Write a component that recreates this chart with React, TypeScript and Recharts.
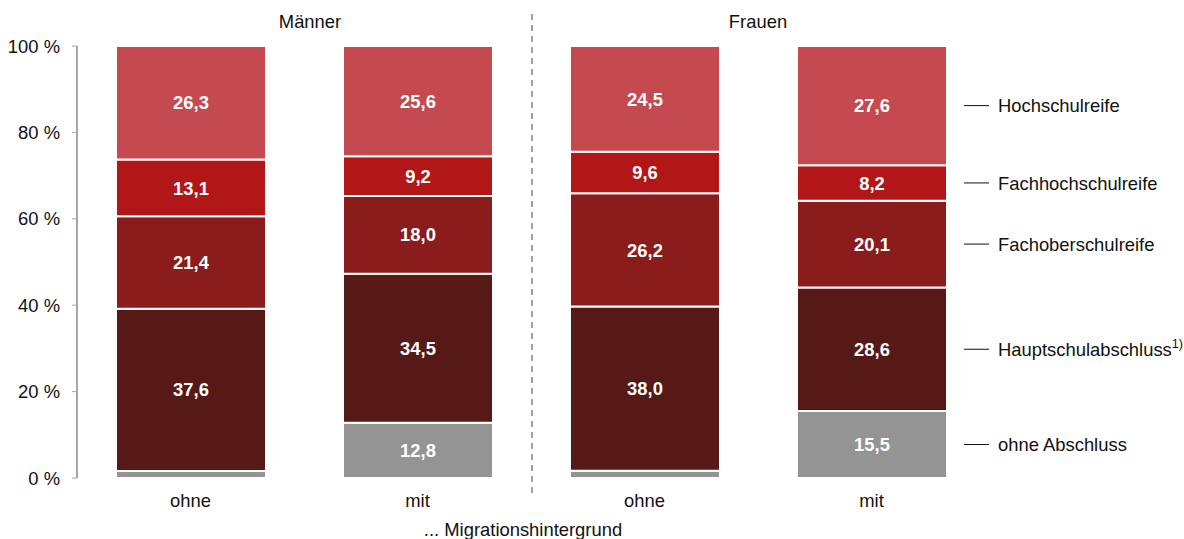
import React from 'react';
import { BarChart, Bar, XAxis, YAxis, LabelList } from 'recharts';

const categories = ['ohne', 'mit', 'ohne', 'mit'];
const ohneAbschluss = [1.6, 12.8, 1.7, 15.5];
const hauptschul = [37.6, 34.5, 38.0, 28.6];
const fachober = [21.4, 18.0, 26.2, 20.1];
const fachhoch = [13.1, 9.2, 9.6, 8.2];
const hochschul = [26.3, 25.6, 24.5, 27.6];
const yTicks = [0, 20, 40, 60, 80, 100];

const seriesNames = ['ohne Abschluss', 'Hauptschulabschluss', 'Fachoberschulreife', 'Fachhochschulreife', 'Hochschulreife'];
const seriesKeys = ['s0', 's1', 's2', 's3', 's4'];
const seriesColors = ['#939493', '#561915', '#8A1C1C', '#B21717', '#C44A4F'];

const data = categories.map((c, i) => ({
  id: i,
  name: c,
  s0: ohneAbschluss[i],
  s1: hauptschul[i],
  s2: fachober[i],
  s3: fachhoch[i],
  s4: hochschul[i],
}));

const FONT = '"Liberation Sans", Arial, sans-serif';
const FS = 18.4;

const valueLabel = (props: any) => {
  const { x, y, width, height, value } = props;
  if (value == null || value < 5) return null;
  return (
    <text
      x={x + width / 2}
      y={y + height / 2}
      dy="0.36em"
      textAnchor="middle"
      fill="#ffffff"
      fontFamily={FONT}
      fontSize={FS}
      fontWeight="bold"
    >
      {Number(value).toFixed(1).replace('.', ',')}
    </text>
  );
};

const makeLegendLabel = (name: string, sup?: string) => (props: any) => {
  const { x, y, width, height, index } = props;
  if (index !== categories.length - 1) return null;
  const cy = y + height / 2;
  const x0 = x + width;
  return (
    <g>
      <line x1={x0 + 17} x2={x0 + 42} y1={cy} y2={cy} stroke="#111" strokeWidth={1} />
      <text x={x0 + 51} y={cy} dy="0.36em" fill="#111" fontFamily={FONT} fontSize={FS}>
        {name}
        {sup ? (
          <tspan fontSize={12.5} dy="-0.65em">{sup}</tspan>
        ) : null}
      </text>
    </g>
  );
};

const XTick = (props: any) => {
  const { x, y, payload } = props;
  return (
    <text x={x} y={y + 29} textAnchor="middle" fill="#111" fontFamily={FONT} fontSize={FS}>
      {categories[payload.index] ?? payload.value}
    </text>
  );
};

export default function App() {
  return (
    <div style={{ position: 'absolute', left: 0, top: 0, width: 1184, height: 539, background: '#fff' }}>
      <BarChart
        width={1184}
        height={539}
        data={data}
        margin={{ top: 46, right: 199, bottom: 31, left: 0 }}
        barCategoryGap={78}
      >
        <XAxis
          dataKey="id"
          type="category"
          axisLine={false}
          tickLine={false}
          tickSize={0}
          tickMargin={0}
          height={30}
          tick={<XTick />}
        />
        <YAxis
          type="number"
          domain={[0, 100]}
          ticks={yTicks}
          allowDataOverflow
          width={77}
          tickSize={5}
          tickMargin={12}
          axisLine={{ stroke: '#a6a6a6', strokeWidth: 2 }}
          tickLine={{ stroke: '#a6a6a6', strokeWidth: 1 }}
          tickFormatter={(v: number) => `${v} %`}
          tick={{ fill: '#111', fontFamily: FONT, fontSize: FS }}
        />
        {seriesKeys.map((k, i) => (
          <Bar
            key={k}
            dataKey={k}
            stackId="a"
            fill={seriesColors[i]}
            stroke="#ffffff"
            strokeWidth={2}
            barSize={150}
            isAnimationActive={false}
          >
            <LabelList dataKey={k} content={valueLabel} />
            <LabelList
              dataKey={k}
              content={makeLegendLabel(seriesNames[i], i === 1 ? '1)' : undefined)}
            />
          </Bar>
        ))}
      </BarChart>
      <svg
        width={1184}
        height={539}
        style={{ position: 'absolute', left: 0, top: 0, pointerEvents: 'none' }}
      >
        <line x1={532} x2={532} y1={14} y2={498} stroke="#a0a0a0" strokeWidth={2} strokeDasharray="6 5" />
        <text x={310} y={28} textAnchor="middle" fill="#111" fontFamily={FONT} fontSize={FS}>Männer</text>
        <text x={758} y={28} textAnchor="middle" fill="#111" fontFamily={FONT} fontSize={FS}>Frauen</text>
        <text x={523} y={536} textAnchor="middle" fill="#111" fontFamily={FONT} fontSize={FS}>... Migrationshintergrund</text>
      </svg>
    </div>
  );
}
